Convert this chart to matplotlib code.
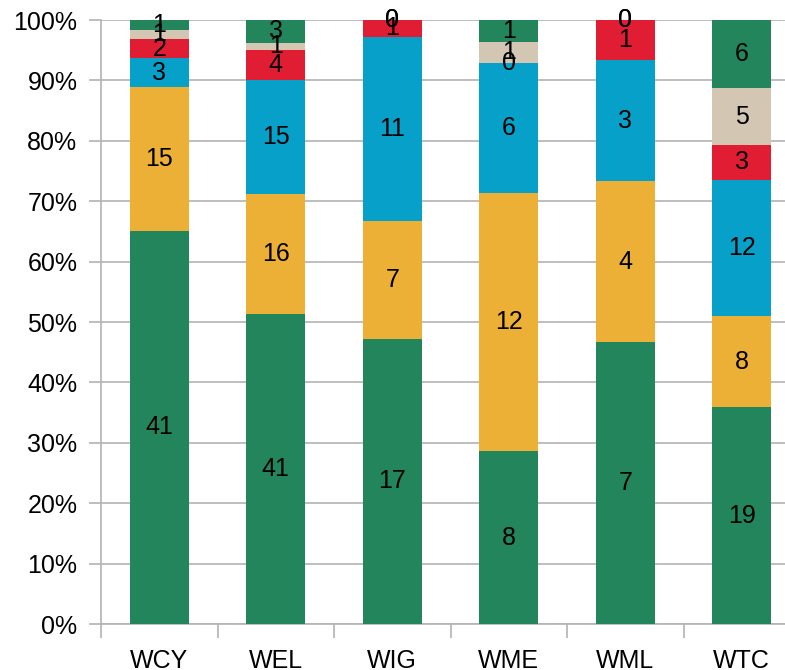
import matplotlib
matplotlib.use("Agg")
import matplotlib.pyplot as plt
import numpy as np

categories = ["WCY", "WEL", "WIG", "WME", "WML", "WTC"]
s_green = [41, 41, 17, 8, 7, 19]
s_orange = [15, 16, 7, 12, 4, 8]
s_blue = [3, 15, 11, 6, 3, 12]
s_red = [2, 4, 1, 0, 1, 3]
s_beige = [1, 1, 0, 1, 0, 5]
s_top = [1, 3, 0, 1, 0, 6]

series = [s_green, s_orange, s_blue, s_red, s_beige, s_top]
colors = ["#23855B", "#ECB036", "#06A0C9", "#E11D33", "#D3C7B4", "#23855B"]

plt.rcParams['font.family'] = ['Liberation Sans', 'DejaVu Sans']
fig = plt.figure(figsize=(7.85, 6.7), dpi=100)
ax = fig.add_axes([101/785, 46/670, 699/785, 604/670])

data = np.array(series, dtype=float)
totals = data.sum(axis=0)
pct = data / totals * 100
x = np.arange(len(categories))
bottom = np.zeros(len(categories))
grid_c = "#b3b3b3"
for vals, p, c in zip(series, pct, colors):
    ax.bar(x, p, bottom=bottom, width=0.506, color=c, zorder=3)
    bottom += p
bottom = np.zeros(len(categories))
for vals, p in zip(series, pct):
    for i in range(len(categories)):
        ax.text(x[i], bottom[i] + p[i] / 2, str(vals[i]), ha='center', va='center',
                fontsize=18, color='black', zorder=5)
    bottom += p

ax.set_xlim(-0.5, len(categories) - 0.5)
ax.set_ylim(0, 100)
ax.set_yticks(np.arange(0, 101, 10))
ax.set_yticklabels([f"{v}%" for v in range(0, 101, 10)])
ax.yaxis.grid(True, color=grid_c, linewidth=1.2, zorder=0)
ax.set_axisbelow(True)
ax.set_xticks(x)
ax.set_xticklabels(categories)
ax.set_xticks(np.arange(-0.5, len(categories), 1), minor=True)
ax.tick_params(axis='x', which='major', length=0, pad=18, labelsize=18)
ax.tick_params(axis='x', which='minor', length=10, color=grid_c, width=1.2)
ax.tick_params(axis='y', length=9, color=grid_c, width=1.2, pad=8, labelsize=18)
for s in ['top', 'right']:
    ax.spines[s].set_visible(False)
for s in ['left', 'bottom']:
    ax.spines[s].set_color(grid_c)
    ax.spines[s].set_linewidth(1.2)

fig.savefig("out.png", dpi=100)
